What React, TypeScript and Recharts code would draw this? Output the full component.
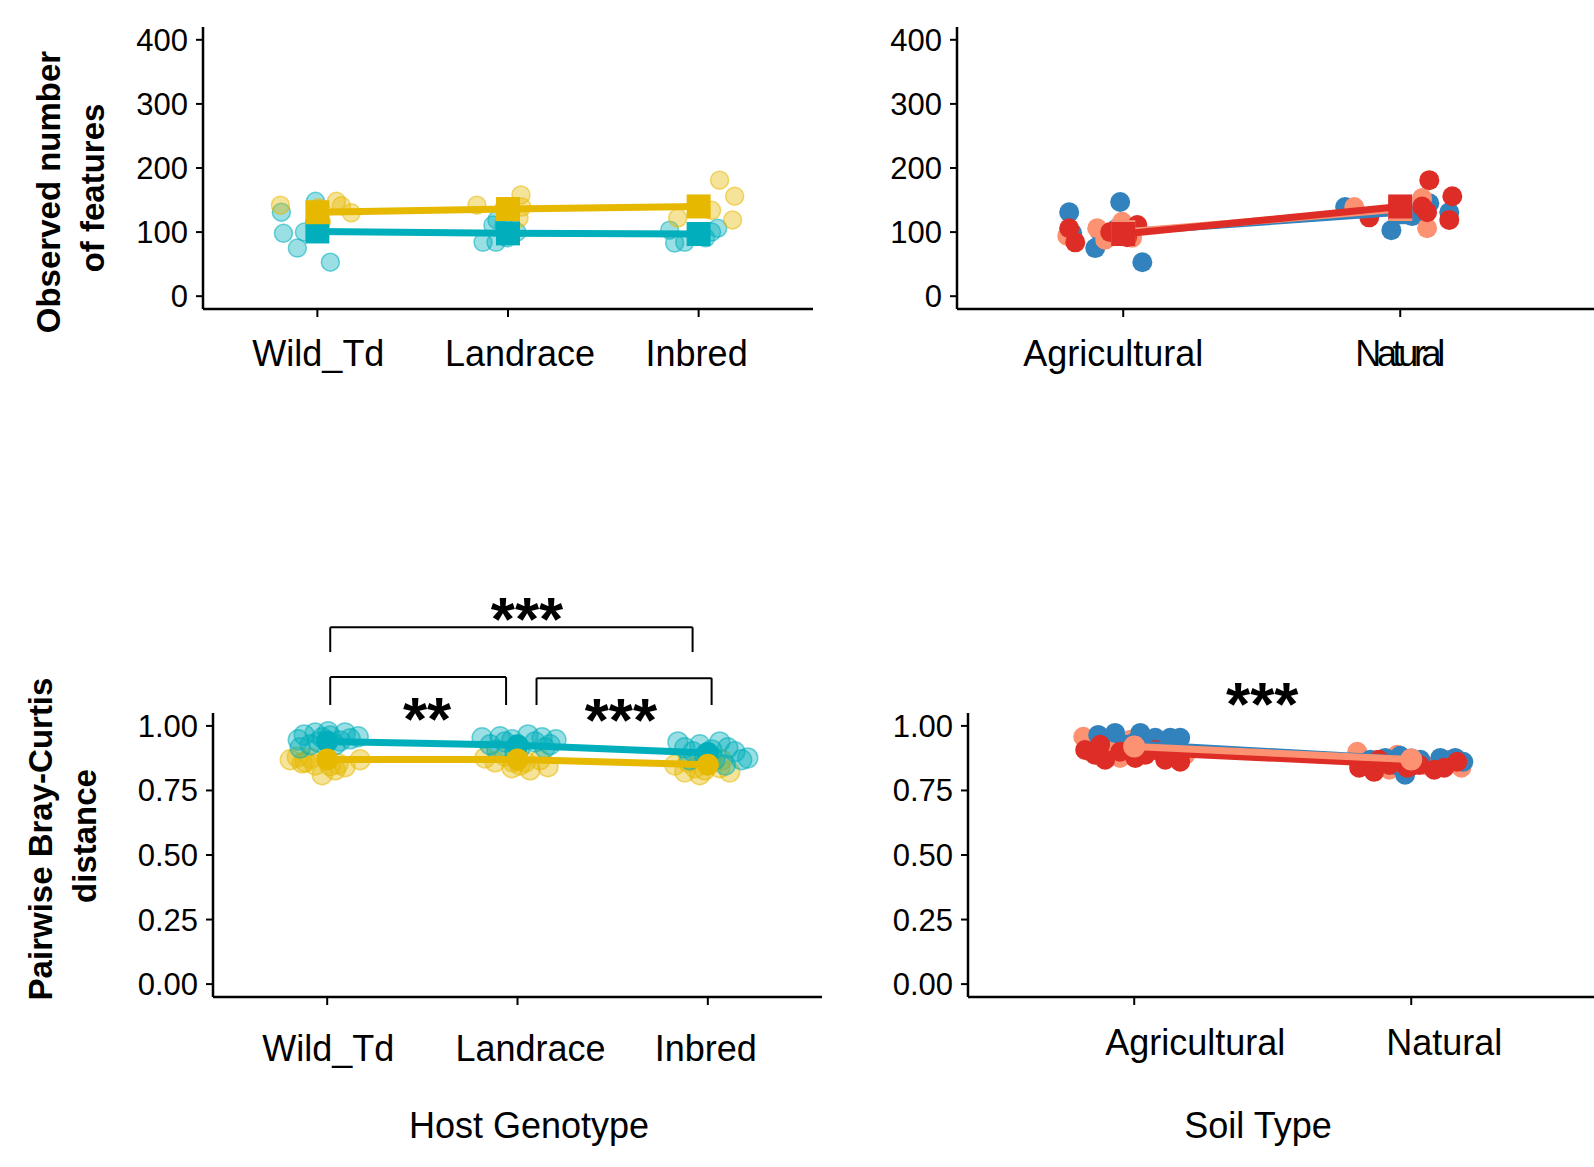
import { ComposedChart, Scatter, XAxis, YAxis, ReferenceLine, ReferenceDot } from 'recharts';

// categories and ticks
const genotypes = ['Wild_Td', 'Landrace', 'Inbred'];
const soils = ['Agricultural', 'Natural'];
const richTicks = [0, 100, 200, 300, 400];
const brayTicks = [0, 0.25, 0.5, 0.75, 1];

// colours
const TEAL = '#00AFBB';
const GOLD = '#E7B800';
const BLUE = '#3182BD';
const SALMON = '#FC9272';
const RED = '#DE2D26';

// observed features by host genotype: [position, value]
const richGenoTeal = [
  [0.811, 131], [0.822, 98], [0.895, 75], [0.99, 148], [0.932, 100], [1.068, 53], [1.0, 102],
  [1.921, 111], [1.937, 84], [1.869, 84], [1.979, 111], [1.995, 91], [2.047, 100], [1.942, 119],
  [2.874, 83], [2.927, 84], [2.848, 103], [3.037, 91], [3.068, 100], [3.1, 106], [3.005, 98],
];
const richGenoGold = [
  [0.806, 142], [1.1, 148], [1.126, 141], [1.178, 130], [1.005, 138], [1.021, 116],
  [1.837, 142], [2.068, 158], [2.073, 139], [2.058, 122], [1.979, 137],
  [3.11, 181], [3.189, 156], [3.178, 119], [2.89, 122], [3.068, 134], [3.005, 138],
];
const richGenoTealMean = [[1, 101], [2, 98], [3, 97]];
const richGenoGoldMean = [[1, 131], [2, 136], [3, 140]];

// observed features by soil type
const richSoilBlue = [
  [0.805, 131], [0.816, 98], [0.899, 75], [0.989, 147], [1.069, 53], [0.917, 100], [0.978, 106],
  [1.801, 139], [1.968, 103], [2.105, 145], [2.177, 131], [2.043, 125],
];
const richSoilSalmon = [
  [0.798, 94], [0.906, 106], [0.996, 116], [1.032, 91], [0.935, 88],
  [1.834, 139], [2.097, 106], [2.079, 153], [2.007, 135],
];
const richSoilRed = [
  [0.827, 84], [0.805, 106], [1.051, 111], [1.014, 92], [0.953, 100],
  [2.105, 181], [2.188, 156], [2.177, 119], [1.888, 123], [2.097, 131], [2.079, 140],
];
const richSoilBlueMean = [[1, 100], [2, 131]];
const richSoilSalmonMean = [[1, 100], [2, 136]];
const richSoilRedMean = [[1, 97], [2, 140]];

// pairwise Bray-Curtis by host genotype
const brayGenoTeal = [
  [0.848, 0.946], [0.879, 0.965], [0.937, 0.973], [0.974, 0.954], [1.016, 0.961], [1.068, 0.942], [1.121, 0.95],
  [1.163, 0.958], [0.911, 0.927], [1.042, 0.927], [0.858, 0.915], [1.094, 0.973], [0.953, 0.938], [1.005, 0.977],
  [1.814, 0.954], [1.856, 0.927], [1.892, 0.907], [1.934, 0.938], [1.971, 0.946], [2.013, 0.915], [2.055, 0.965],
  [2.092, 0.938], [2.129, 0.954], [2.171, 0.927], [2.202, 0.946], [1.908, 0.958], [1.987, 0.9], [2.144, 0.915],
  [2.843, 0.938], [2.879, 0.915], [2.921, 0.9], [2.958, 0.927], [2.984, 0.888], [3.021, 0.907], [3.063, 0.938],
  [3.105, 0.915], [3.142, 0.9], [3.178, 0.869], [3.21, 0.876], [2.905, 0.869], [3.037, 0.869], [3.092, 0.849],
];
const brayGenoGold = [
  [0.806, 0.869], [0.843, 0.88], [0.885, 0.861], [0.937, 0.849], [0.974, 0.811], [1.016, 0.846],
  [1.058, 0.853], [1.094, 0.842], [1.173, 0.869], [0.911, 0.876], [1.042, 0.83], [0.869, 0.857],
  [1.829, 0.876], [1.882, 0.861], [1.971, 0.838], [2.013, 0.849], [2.066, 0.83], [2.118, 0.869],
  [2.16, 0.842], [1.934, 0.884], [2.042, 0.861], [1.976, 0.861],
  [2.827, 0.849], [2.879, 0.822], [2.932, 0.838], [2.984, 0.83], [3.021, 0.861], [3.063, 0.838],
  [3.115, 0.822], [2.895, 0.861], [2.958, 0.811], [3.073, 0.869],
];
const brayGenoTealMean = [[1, 0.94], [2, 0.925], [3, 0.895]];
const brayGenoGoldMean = [[1, 0.87], [2, 0.87], [3, 0.85]];

// pairwise Bray-Curtis by soil type
const braySoilBlue = [
  [0.877, 0.946], [0.931, 0.973], [1.022, 0.973], [1.076, 0.954], [1.13, 0.954], [1.166, 0.954], [0.968, 0.927], [0.87, 0.965],
  [1.852, 0.869], [1.906, 0.876], [1.96, 0.884], [2.033, 0.869], [2.105, 0.876], [2.159, 0.876], [2.188, 0.861], [1.978, 0.811], [1.942, 0.849],
];
const braySoilSalmon = [
  [0.816, 0.958], [0.841, 0.9], [0.913, 0.907], [0.986, 0.946], [1.058, 0.927], [1.148, 0.938], [1.184, 0.888], [0.949, 0.876],
  [1.805, 0.9], [1.877, 0.869], [1.949, 0.888], [2.047, 0.849], [2.137, 0.869], [2.181, 0.838], [1.921, 0.83],
];
const braySoilRed = [
  [0.823, 0.907], [0.859, 0.888], [0.895, 0.869], [0.949, 0.9], [1.004, 0.876], [1.04, 0.888], [1.112, 0.869], [1.166, 0.861], [0.877, 0.927], [1.076, 0.907],
  [1.812, 0.838], [1.866, 0.822], [1.921, 0.849], [1.986, 0.838], [2.029, 0.849], [2.083, 0.83], [2.119, 0.838], [2.166, 0.861], [1.884, 0.869],
];
const braySoilBlueMean = [[1, 0.93], [2, 0.87]];
const braySoilSalmonMean = [[1, 0.92], [2, 0.87]];
const braySoilRedMean = [[1, 0.9], [2, 0.85]];

// significance brackets (host genotype, Bray-Curtis): [x1, x2, y top, y legs]
const genoBrackets = [
  [1.016, 2.92, 1.382, 1.286],
  [1.016, 1.94, 1.189, 1.081],
  [2.1, 3.02, 1.185, 1.081],
];
const genoStars = [
  { x: 2.05, y: 1.467, text: '***' },
  { x: 1.525, y: 1.081, text: '**' },
  { x: 2.543, y: 1.077, text: '***' },
];
const soilStars = [{ x: 1.462, y: 1.139, text: '***' }];

const FONT = '"Liberation Sans", Arial, Helvetica, sans-serif';

const pts = (arr: number[][]) => arr.map(([x, y]) => ({ x, y }));

const dot = (color: string, r: number, alpha: number) => (props: any) => (
  <circle
    cx={props.cx}
    cy={props.cy}
    r={r}
    fill={color}
    fillOpacity={alpha}
    stroke={color}
    strokeOpacity={alpha < 1 ? 0.55 : 0}
    strokeWidth={1.5}
  />
);

const square = (color: string) => (props: any) => (
  <rect x={props.cx - 12} y={props.cy - 12} width={24} height={24} fill={color} />
);

const starShape = (text: string) => (props: any) => (
  <text
    x={props.cx}
    y={props.cy + 35}
    textAnchor="middle"
    fontSize={62}
    fontWeight="bold"
    fontFamily={FONT}
    fill="#000"
  >
    {text}
  </text>
);

const makeTick =
  (labels: string[], shifts: number[], dy: number, squeeze: (number | undefined)[] = []) =>
  (props: any) => {
    const i = Math.round(props.payload.value) - 1;
    return (
      <text
        x={props.x + (shifts[i] ?? 0)}
        y={props.y + dy}
        textAnchor="middle"
        fontSize={36}
        fontFamily={FONT}
        fill="#000"
        textLength={squeeze[i]}
        lengthAdjust={squeeze[i] ? 'spacing' : undefined}
      >
        {labels[i]}
      </text>
    );
  };

const axisLine = { stroke: '#000', strokeWidth: 2.5 };
const tickLine = { stroke: '#000', strokeWidth: 2 };
const yTick = { fontSize: 31, fill: '#000', fontFamily: FONT };

function Panel(props: {
  left: number;
  top: number;
  width: number;
  height: number;
  marginTop: number;
  marginRight: number;
  yWidth: number;
  xHeight: number;
  xDomain: [number, number];
  xTicks: number[];
  yDomain: [number, number];
  yTicks: number[];
  tick: any;
  yFormat?: (v: number) => string;
  children: any;
}) {
  return (
    <div style={{ position: 'absolute', left: props.left, top: props.top }}>
      <ComposedChart
        width={props.width}
        height={props.height}
        margin={{ top: props.marginTop, right: props.marginRight, bottom: 0, left: 0 }}
      >
        <XAxis
          type="number"
          dataKey="x"
          domain={props.xDomain}
          ticks={props.xTicks}
          height={props.xHeight}
          axisLine={axisLine}
          tickLine={tickLine}
          tickSize={8}
          tickMargin={0}
          tick={props.tick}
          interval={0}
        />
        <YAxis
          type="number"
          dataKey="y"
          domain={props.yDomain}
          ticks={props.yTicks}
          width={props.yWidth}
          axisLine={axisLine}
          tickLine={tickLine}
          tickSize={7}
          tickMargin={8}
          tick={yTick}
          tickFormatter={props.yFormat}
          interval={0}
        />
        {props.children}
      </ComposedChart>
    </div>
  );
}

const meanLine = (color: string) => ({ stroke: color, strokeWidth: 7 });

export default function App() {
  const fmt2 = (v: number) => v.toFixed(2);
  return (
    <div
      style={{
        position: 'absolute',
        left: 0,
        top: 0,
        width: 1594,
        height: 1167,
        overflow: 'hidden',
        background: '#fff',
        fontFamily: FONT,
      }}
    >
      {/* observed features by host genotype */}
      <Panel
        left={0}
        top={0}
        width={840}
        height={400}
        marginTop={27}
        marginRight={27}
        yWidth={203}
        xHeight={91}
        xDomain={[0.4, 3.6]}
        xTicks={[1, 2, 3]}
        yDomain={[-20, 420]}
        yTicks={richTicks}
        tick={makeTick(genotypes, [1, 12, -2], 49)}
      >
        <Scatter data={pts(richGenoTeal)} shape={dot(TEAL, 9, 0.4)} isAnimationActive={false} />
        <Scatter data={pts(richGenoGold)} shape={dot(GOLD, 9, 0.4)} isAnimationActive={false} />
        <Scatter data={pts(richGenoTealMean)} line={meanLine(TEAL)} shape={square(TEAL)} isAnimationActive={false} />
        <Scatter data={pts(richGenoGoldMean)} line={meanLine(GOLD)} shape={square(GOLD)} isAnimationActive={false} />
      </Panel>

      {/* observed features by soil type */}
      <Panel
        left={760}
        top={0}
        width={848}
        height={400}
        marginTop={27}
        marginRight={0}
        yWidth={197}
        xHeight={91}
        xDomain={[0.4, 2.75]}
        xTicks={[1, 2]}
        yDomain={[-20, 420]}
        yTicks={richTicks}
        tick={makeTick(soils, [-10, 0], 49, [undefined, 90])}
      >
        <Scatter data={pts(richSoilBlue)} shape={dot(BLUE, 10, 1)} isAnimationActive={false} />
        <Scatter data={pts(richSoilSalmon)} shape={dot(SALMON, 10, 1)} isAnimationActive={false} />
        <Scatter data={pts(richSoilRed)} shape={dot(RED, 10, 1)} isAnimationActive={false} />
        <Scatter data={pts(richSoilBlueMean)} line={meanLine(BLUE)} shape={square(BLUE)} isAnimationActive={false} />
        <Scatter data={pts(richSoilSalmonMean)} line={meanLine(SALMON)} shape={square(SALMON)} isAnimationActive={false} />
        <Scatter data={pts(richSoilRedMean)} line={meanLine(RED)} shape={square(RED)} isAnimationActive={false} />
      </Panel>

      {/* Bray-Curtis by host genotype */}
      <Panel
        left={0}
        top={560}
        width={840}
        height={540}
        marginTop={153}
        marginRight={18}
        yWidth={213}
        xHeight={103}
        xDomain={[0.4, 3.6]}
        xTicks={[1, 2, 3]}
        yDomain={[-0.05, 1.05]}
        yTicks={brayTicks}
        yFormat={fmt2}
        tick={makeTick(genotypes, [1, 13, -2], 56)}
      >
        <Scatter data={pts(brayGenoGold)} shape={dot(GOLD, 10, 0.4)} isAnimationActive={false} />
        <Scatter data={pts(brayGenoTeal)} shape={dot(TEAL, 10, 0.4)} isAnimationActive={false} />
        <Scatter data={pts(brayGenoTealMean)} line={meanLine(TEAL)} shape={dot(TEAL, 11, 1)} isAnimationActive={false} />
        <Scatter data={pts(brayGenoGoldMean)} line={meanLine(GOLD)} shape={dot(GOLD, 11, 1)} isAnimationActive={false} />
        {genoBrackets.map(([x1, x2, yt, yl], i) => [
          <ReferenceLine key={`h${i}`} segment={[{ x: x1, y: yt }, { x: x2, y: yt }]} stroke="#000" strokeWidth={2} ifOverflow="visible" />,
          <ReferenceLine key={`l${i}`} segment={[{ x: x1, y: yl }, { x: x1, y: yt }]} stroke="#000" strokeWidth={2} ifOverflow="visible" />,
          <ReferenceLine key={`r${i}`} segment={[{ x: x2, y: yl }, { x: x2, y: yt }]} stroke="#000" strokeWidth={2} ifOverflow="visible" />,
        ])}
        {genoStars.map((s, i) => (
          <ReferenceDot key={`s${i}`} x={s.x} y={s.y} r={0} ifOverflow="visible" shape={starShape(s.text)} />
        ))}
      </Panel>

      {/* Bray-Curtis by soil type */}
      <Panel
        left={760}
        top={560}
        width={859}
        height={540}
        marginTop={153}
        marginRight={0}
        yWidth={208}
        xHeight={103}
        xDomain={[0.4, 2.75]}
        xTicks={[1, 2]}
        yDomain={[-0.05, 1.05]}
        yTicks={brayTicks}
        yFormat={fmt2}
        tick={makeTick(soils, [61, 33], 50)}
      >
        <Scatter data={pts(braySoilSalmon)} shape={dot(SALMON, 10, 1)} isAnimationActive={false} />
        <Scatter data={pts(braySoilBlue)} shape={dot(BLUE, 10, 1)} isAnimationActive={false} />
        <Scatter data={pts(braySoilRed)} shape={dot(RED, 10, 1)} isAnimationActive={false} />
        <Scatter data={pts(braySoilBlueMean)} line={meanLine(BLUE)} shape={dot(BLUE, 11, 1)} isAnimationActive={false} />
        <Scatter data={pts(braySoilRedMean)} line={meanLine(RED)} shape={dot(RED, 11, 1)} isAnimationActive={false} />
        <Scatter data={pts(braySoilSalmonMean)} line={meanLine(SALMON)} shape={dot(SALMON, 11, 1)} isAnimationActive={false} />
        {soilStars.map((s, i) => (
          <ReferenceDot key={`s${i}`} x={s.x} y={s.y} r={0} ifOverflow="visible" shape={starShape(s.text)} />
        ))}
      </Panel>

      {/* axis titles */}
      <svg
        width={1594}
        height={1167}
        style={{ position: 'absolute', left: 0, top: 0, pointerEvents: 'none' }}
        fontFamily={FONT}
      >
        <g fontSize={33} fontWeight="bold" fill="#000" textAnchor="middle">
          <text transform="translate(48,192) rotate(-90)" dominantBaseline="central">Observed number</text>
          <text transform="translate(92,188) rotate(-90)" dominantBaseline="central">of features</text>
          <text transform="translate(40,839) rotate(-90)" dominantBaseline="central">Pairwise Bray-Curtis</text>
          <text transform="translate(84,836) rotate(-90)" dominantBaseline="central">distance</text>
        </g>
        <g fontSize={36} fill="#000" textAnchor="middle">
          <text x={529} y={1138}>Host Genotype</text>
          <text x={1258} y={1138}>Soil Type</text>
        </g>
      </svg>
    </div>
  );
}
